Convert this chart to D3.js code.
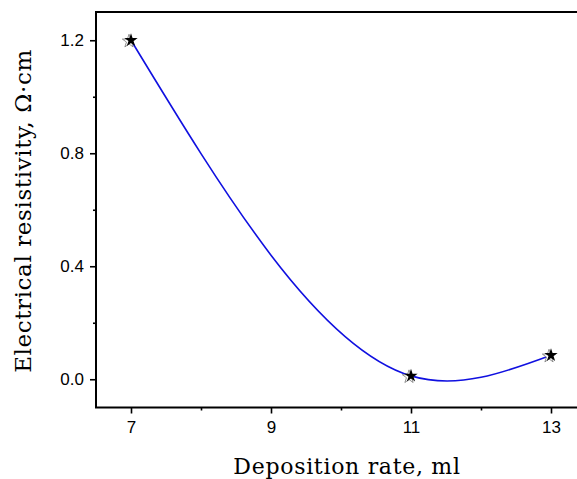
<!DOCTYPE html>
<html>
<head>
<meta charset="utf-8">
<script src="https://cdn.jsdelivr.net/npm/d3@7"></script>
<style>
  body { margin: 0; background: #fff; }
  svg { display: block; }
</style>
</head>
<body>
<div id="chart"></div>
<script>
// measured values
const depositionRate = [7, 11, 13];
const resistivity = [1.2, 0.012, 0.085];
const xTicks = [7, 9, 11, 13];
const xMinor = [8, 10, 12];
const yTicks = [0.0, 0.4, 0.8, 1.2];
const yMinor = [0.2, 0.6, 1.0];

const width = 577;
const height = 479;

const x = d3.scaleLinear().domain([6.5, 13.5]).range([96, 586]);
const y = d3.scaleLinear().domain([-0.1, 1.3]).range([407.5, 12]);

const svg = d3.select("#chart")
    .append("svg")
    .attr("width", width)
    .attr("height", height);

// natural cubic spline over x (not over point index like d3.curveNatural)
function NaturalX(context) { this._context = context; }
NaturalX.prototype = {
  areaStart() { this._line = 0; },
  areaEnd() { this._line = NaN; },
  lineStart() { this._x = []; this._y = []; },
  point(px, py) { this._x.push(+px); this._y.push(+py); },
  lineEnd() {
    const xs = this._x, ys = this._y, n = xs.length;
    if (!n) return;
    this._context.moveTo(xs[0], ys[0]);
    if (n === 2) { this._context.lineTo(xs[1], ys[1]); return; }
    const h = d3.range(n - 1).map(i => xs[i + 1] - xs[i]);
    // tridiagonal system for second derivatives, M[0] = M[n-1] = 0
    const M = new Array(n).fill(0);
    const a = [], b = [], c = [], r = [];
    for (let i = 1; i < n - 1; i++) {
      a.push(h[i - 1]);
      b.push(2 * (h[i - 1] + h[i]));
      c.push(h[i]);
      r.push(6 * ((ys[i + 1] - ys[i]) / h[i] - (ys[i] - ys[i - 1]) / h[i - 1]));
    }
    const m = b.length;
    for (let i = 1; i < m; i++) {
      const w = a[i] / b[i - 1];
      b[i] -= w * c[i - 1];
      r[i] -= w * r[i - 1];
    }
    const sol = new Array(m);
    sol[m - 1] = r[m - 1] / b[m - 1];
    for (let i = m - 2; i >= 0; i--) sol[i] = (r[i] - c[i] * sol[i + 1]) / b[i];
    for (let i = 0; i < m; i++) M[i + 1] = sol[i];
    for (let i = 0; i < n - 1; i++) {
      const s = (ys[i + 1] - ys[i]) / h[i];
      const d0 = s - h[i] * (2 * M[i] + M[i + 1]) / 6;
      const d1 = s + h[i] * (M[i] + 2 * M[i + 1]) / 6;
      this._context.bezierCurveTo(
        xs[i] + h[i] / 3, ys[i] + d0 * h[i] / 3,
        xs[i + 1] - h[i] / 3, ys[i + 1] - d1 * h[i] / 3,
        xs[i + 1], ys[i + 1]);
    }
  }
};
const curveNaturalX = context => new NaturalX(context);

// frame
svg.append("rect")
    .attr("x", x.range()[0])
    .attr("y", y.range()[1])
    .attr("width", x.range()[1] - x.range()[0])
    .attr("height", y.range()[0] - y.range()[1])
    .attr("fill", "none")
    .attr("stroke", "#000")
    .attr("stroke-width", 2);

// axes
const xAxis = svg.append("g")
    .attr("transform", `translate(0,${y.range()[0]})`)
    .call(d3.axisBottom(x).tickValues(xTicks).tickFormat(d3.format("d")).tickSize(6).tickPadding(7));
xAxis.append("g")
    .call(d3.axisBottom(x).tickValues(xMinor).tickFormat("").tickSize(3));

const yAxis = svg.append("g")
    .attr("transform", `translate(${x.range()[0]},0)`)
    .call(d3.axisLeft(y).tickValues(yTicks).tickFormat(d3.format(".1f")).tickSize(6).tickPadding(6));
yAxis.append("g")
    .call(d3.axisLeft(y).tickValues(yMinor).tickFormat("").tickSize(3));

svg.selectAll(".domain").remove();
svg.selectAll(".tick line").attr("stroke", "#000").attr("stroke-width", 1.6);
svg.selectAll(".tick text")
    .attr("fill", "#000")
    .attr("font-family", "'Liberation Sans', Arial, sans-serif")
    .attr("font-size", 17);

// curve
const points = depositionRate.map((d, i) => ({x: d, y: resistivity[i]}));

svg.append("path")
    .datum(points)
    .attr("fill", "none")
    .attr("stroke", "#1010e0")
    .attr("stroke-width", 1.6)
    .attr("d", d3.line().x(d => x(d.x)).y(d => y(d.y)).curve(curveNaturalX));

// star markers
const star = d3.symbol().type(d3.symbolStar).size(55);
const markers = svg.append("g")
    .selectAll("g")
    .data(points)
    .join("g")
    .attr("transform", d => `translate(${x(d.x)},${y(d.y)})`);
markers.append("path")
    .attr("d", star)
    .attr("transform", "translate(-2,1)")
    .attr("fill", "#fff")
    .attr("stroke", "#777")
    .attr("stroke-width", 0.8);
markers.append("path")
    .attr("d", star)
    .attr("fill", "#000");

// axis titles
svg.append("text")
    .attr("x", 347)
    .attr("y", 474)
    .attr("text-anchor", "middle")
    .style("font-family", "'DejaVu Serif', serif")
    .style("font-size", "22px")
    .style("letter-spacing", "0.7px")
    .text("Deposition rate, ml");

svg.append("text")
    .attr("transform", "translate(31,211) rotate(-90)")
    .attr("text-anchor", "middle")
    .style("font-family", "'DejaVu Serif', serif")
    .style("font-size", "23px")
    .style("letter-spacing", "0.6px")
    .text("Electrical resistivity, Ω·cm");
</script>
</body>
</html>
